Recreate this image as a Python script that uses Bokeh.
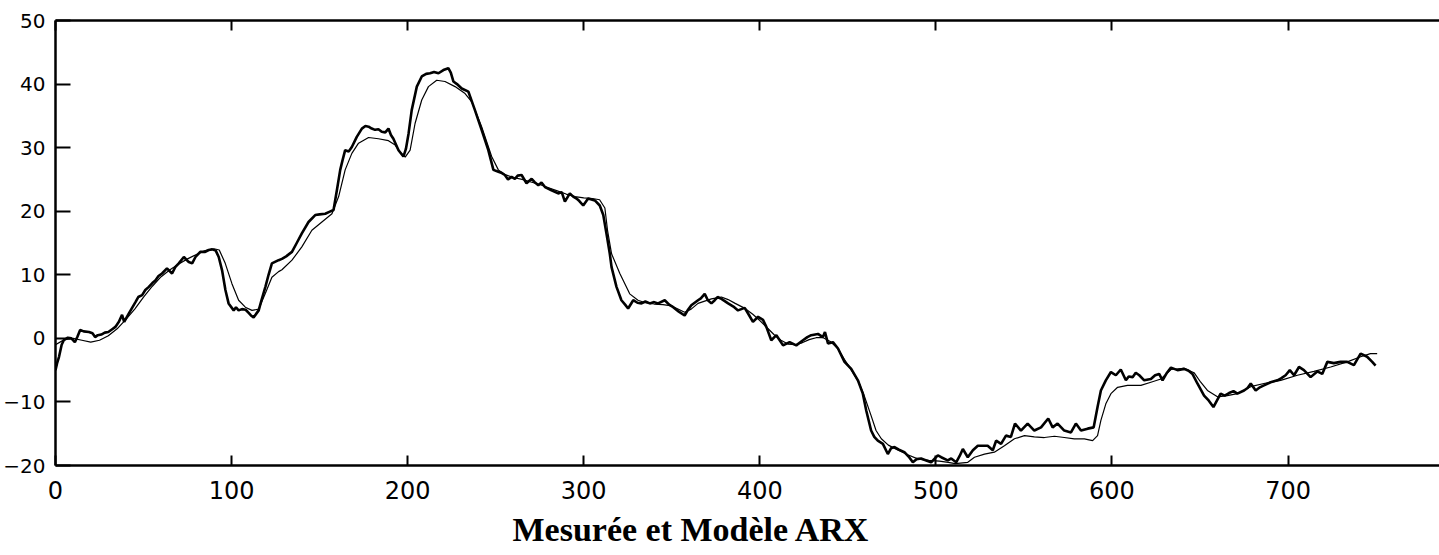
from bokeh.plotting import figure
from bokeh.models import LinearAxis, FixedTicker, Range1d, Title
from bokeh.embed import file_html
from bokeh.resources import INLINE

title_text = "Mesurée et Modèle ARX"
x_ticks = [0, 100, 200, 300, 400, 500, 600, 700, 800]
y_ticks = [-20, -10, 0, 10, 20, 30, 40, 50]

# Measured output (thick, noisy)
meas_x = [0, 1, 2, 3.5, 4.7, 7, 9, 11, 12.5, 14, 16, 19, 21, 22.5, 24, 26, 28, 30, 32, 34, 36, 37.8, 39, 41.6,
          43.5, 45.4, 47, 49.2, 51, 53, 55, 56.7, 58.5, 60.5, 63.3, 66.2, 68, 70, 72.9, 75.7, 77.6, 79.5, 82.2,
          85, 87, 89, 91, 92.7, 94.6, 96.5, 98.3, 101.2, 102.5, 104, 105.9, 108, 109.7, 111, 112.5, 115.4, 117,
          119.2, 121, 122.9, 126.7,
          128.6, 131, 134.3, 137, 139.9, 143.7, 147.5, 150, 153.2, 155.5, 157.9, 159.8, 161.7, 163, 164.5, 166.5,
          168.3, 171.1, 174, 176, 177.8, 179.6, 181.5, 183.4, 185.3, 187.3, 189.1, 190.5, 191.9, 194.8, 197.6,
          199, 200.5, 202.3, 205.2, 208, 210.5, 212.7, 215, 217.5, 220.3, 223.1, 224.5, 226, 228, 230.7, 234.5,
          238.2, 242, 245.8, 248.7,
          251.5, 253.5, 255.2, 257, 259, 260.9, 262.5, 264.7, 267.5, 270.4, 272, 274.2, 276, 278, 281.7, 285.5,
          287.5, 289.3, 292.1, 294, 295.9, 297.5, 299.7, 302.5, 306.3, 309.1, 311.1, 312.9, 314.8, 315.8, 318.6,
          321.4, 323.5, 325.2, 328.1, 330.5, 332.8, 335, 337.5, 340, 342.2, 346, 348.5, 350.8, 354, 357.3, 359,
          361.1, 364.9, 366.5, 368.7, 370.5, 372.5, 374.4, 376, 378.2,
          382, 385, 387.6, 391.4, 394, 396.1, 399, 401.8, 403.7, 406.5, 409.4, 413.2, 416.9, 420.7, 424.5, 427,
          429.2, 433, 435.8, 437, 438.7, 441.5, 444.4, 448.1, 451.9, 455.7, 458.5, 460.4, 463.2, 465, 467, 469.9,
          472.7, 474.5, 476.5, 479, 482.1, 484.5, 486.9, 489, 491.6, 494.5, 497.3, 499, 501.1, 503, 506.7,
          508.7, 511.5, 513.5, 515.3, 518.1, 521, 523.8, 527, 529.4, 532.3, 534.2, 537, 539.8, 542.6, 544.9,
          548.3, 552.1, 555.9, 559.7, 563.8, 566.3, 569.1, 572.9, 576.7, 579.5, 582.4, 586.2, 589.6, 591.8,
          593.7, 596.5, 599.4, 602.2, 605, 607.9, 609.5, 611.7, 613.5, 615.5, 618.3, 622.1, 624.5, 626.8, 628.7,
          631, 633.5, 637.2,
          641, 643.5, 645.7, 648.5, 652.3, 655, 657.6, 661.7, 664, 666.5, 669, 671.2, 675, 677, 678.8, 681.6,
          684, 686.3, 690.1, 693.9, 696, 698.6, 701, 703.4, 706.2, 709, 712.8, 716.6, 719.4, 722.3, 726, 729.8,
          733.6, 737.4, 741.2, 744.9, 747.8, 749.7]
meas_y = [-5.0, -3.8, -2.9, -1.0, -0.3, 0.1, 0.0, -0.6, 0.3, 1.3, 1.1, 1.0, 0.8, 0.2, 0.5, 0.6, 0.9, 1.0, 1.4,
          1.8, 2.6, 3.7, 2.6, 3.9, 4.8, 5.7, 6.5, 6.8, 7.6, 8.1, 8.7, 9.1, 9.8, 10.2, 11.0, 10.2, 11.2, 11.8, 12.8,
          12.0, 11.8, 12.8, 13.6, 13.6, 13.9, 14.0, 13.8, 12.8, 10.7, 7.6, 5.5, 4.4, 4.9, 4.4, 4.6, 4.5, 4.0, 3.6,
          3.3, 4.4, 6.0, 8.1, 10.0, 11.8, 12.3,
          12.5, 12.9, 13.6, 15.0, 16.5, 18.3, 19.4, 19.5, 19.6, 19.9, 20.2, 23.3, 26.5, 28.0, 29.6, 29.4, 30.1,
          31.7, 33.0, 33.4, 33.3, 33.0, 32.8, 32.9, 32.5, 32.4, 33.0, 32.0, 31.4, 29.6, 28.6, 29.8, 32.2, 35.9,
          39.6, 41.2, 41.6, 41.7, 41.9, 41.7, 42.2, 42.5, 41.8, 40.4, 40.0, 39.3, 38.8, 35.9, 32.8, 29.6, 26.5,
          26.2, 26.0, 25.7, 25.0, 25.4, 25.1, 25.6, 25.7, 24.4, 25.1, 24.6, 24.1, 24.5, 23.8, 23.3, 22.8, 23.0,
          21.5, 22.8, 22.3, 22.0, 21.6, 20.9, 22.0, 21.7, 20.9, 19.4, 16.5, 13.3, 11.2, 8.1, 6.0, 5.3, 4.7, 6.0,
          5.6, 5.5, 5.8, 5.5, 5.7, 5.5, 6.0, 5.3, 4.9, 4.2, 3.6, 4.4, 5.2, 6.0, 6.3, 7.0, 6.0, 5.5, 6.0, 6.5, 6.2,
          5.5, 5.0, 4.4, 4.8, 3.6, 2.6, 3.4, 2.9, 1.8, -0.3, 0.5, -1.1, -0.6, -1.1, -0.3, 0.2, 0.5, 0.7, 0.2, 1.0,
          -0.8, -0.6, -1.6, -3.7, -4.8, -6.6, -8.7, -11.3, -14.5, -15.5, -16.1, -16.6, -18.2, -17.3, -17.1, -17.5,
          -17.9, -18.6, -19.5, -19.0, -18.9, -19.2, -19.5, -19.0, -18.4, -18.7, -19.2,
          -18.9, -19.5, -18.5, -17.4, -18.7, -17.6, -16.9, -16.9, -16.9, -17.6, -16.1, -16.6, -15.3, -15.5, -13.4,
          -14.5, -13.4, -14.5, -14.0, -12.6, -14.0, -13.4, -14.5, -14.8, -13.4, -14.5, -14.2, -14.0, -10.8, -8.2,
          -6.6, -5.3, -5.8, -4.9, -6.6, -6.0, -6.1, -5.4, -5.8, -6.6, -6.4, -5.8, -5.6, -6.6, -5.5, -4.6, -5.0,
          -4.8, -5.1, -5.6, -7.1, -9.0, -9.8, -10.8, -8.7, -9.0, -8.6, -8.3, -8.7, -8.2, -7.8, -7.1, -8.2, -7.7,
          -7.4, -6.9, -6.6, -6.3, -5.8, -5.0, -5.8, -4.5, -5.0, -6.1, -5.2, -5.6, -3.7, -3.9, -3.7, -3.7, -4.2,
          -2.4, -2.9, -3.7, -4.3]

# ARX model output (thin, smooth)
model_x = [0, 5, 10, 15, 20, 25, 30, 35, 40, 45, 50, 55, 60, 65, 70, 75, 80, 85, 90, 93, 96.4, 100.2, 104,
           107.8, 111.6, 115.4, 119.2, 122.9, 126.7, 128.6, 134.3, 139.9, 145.6, 151.3, 157, 160.8, 164.5, 168.3,
           172.1, 177.8, 183.4, 189.1, 192.9, 195.7, 198.6, 201.4, 204.2, 208, 211.8, 216.5, 221.2, 226.9, 232.6,
           236.4, 242, 247.7, 251.5, 255, 260, 265, 270, 275, 280, 285, 290, 295, 300, 305, 309, 312, 313.5, 315.8,
           320.5, 326.1, 330.8, 335, 340, 345, 350, 357.3, 361, 364.9, 372.5, 378.2, 382, 386, 391, 396, 400, 404,
           408, 412, 416, 420, 424, 428, 432, 436, 440, 444, 448, 452, 456, 459, 463, 466, 469, 473, 478, 484, 490,
           496, 502, 507, 511, 518.1, 521.9, 527.6, 533.2, 538.9, 544.6, 550.3, 555.9, 561.6, 567.3, 572.9, 578.6,
           584.3, 589, 591.8, 593.7, 596.5, 599.4, 603.2, 608.8, 616.4, 622.1, 627.8, 633.5, 641, 646.6, 650.4,
           654.2, 659.9, 665.5, 671.2, 678.8, 686.3, 695.8, 705.3, 714.7, 724.2, 733.6, 741.2, 746.8, 750.6]
model_y = [-1.0, -0.2, 0.0, -0.3, -0.6, -0.3, 0.4, 1.5, 3.0, 4.6, 6.5, 8.2, 9.7, 10.8, 11.7, 12.5, 13.2, 13.8,
           14.1, 13.9, 11.8, 8.6, 6.0, 4.9, 4.4, 4.6, 7.1, 9.6, 10.5, 10.8, 12.3, 14.4, 17.0, 18.3, 19.6, 22.3,
           26.5, 29.1, 30.7, 31.6, 31.4, 31.1, 30.4, 29.3, 28.5, 29.6, 33.8, 37.5, 39.6, 40.6, 40.4, 39.6, 38.5,
           37.2, 33.3, 28.6, 26.5, 25.8, 25.3, 25.0, 24.6, 24.2, 23.7, 23.2, 22.7, 22.3, 22.1, 22.0, 21.8, 20.5,
           17.0, 13.3, 10.2, 7.0, 6.0, 5.6, 5.4, 5.3, 5.1, 4.1, 4.6, 5.5, 6.2, 6.5, 6.1, 5.5, 4.8, 3.8, 2.8, 1.7,
           0.6, -0.3, -0.9, -1.0, -0.7, -0.2, 0.1, 0.1, -0.5, -1.5, -3.3, -5.0, -6.8, -8.8, -12.0, -14.5, -15.8,
           -16.8, -17.5, -18.3, -19.0, -19.2, -19.3, -19.5, -19.7, -19.5, -18.7, -18.2, -17.9, -16.9, -15.8, -15.3,
           -15.5, -15.6, -15.4, -15.6, -15.8, -15.8, -16.1, -15.3, -12.9, -10.3, -8.7, -7.7, -7.4, -7.4, -6.9,
           -6.4, -4.9, -4.7, -5.4, -6.9, -8.2, -9.2, -9.0, -8.7, -7.6, -7.1, -6.6, -5.8, -5.2, -4.5, -3.7, -2.9,
           -2.4, -2.4]

p = figure(width=1439, height=555, output_backend="svg", toolbar_location=None,
           x_range=Range1d(0, 786), y_range=Range1d(-20, 50),
           min_border_left=53, min_border_right=0, min_border_top=20, min_border_bottom=90,
           background_fill_color="white", border_fill_color="white")
p.outline_line_color = None
p.grid.visible = False

p.line(model_x, model_y, line_color="black", line_width=1.2)
p.line(meas_x, meas_y, line_color="black", line_width=2.6)

top = LinearAxis(ticker=FixedTicker(ticks=x_ticks))
p.add_layout(top, "above")

for ax in p.xaxis:
    ax.ticker = FixedTicker(ticks=x_ticks)
    ax.major_tick_in = 10
    ax.major_tick_out = 0
    ax.minor_tick_line_color = None
    ax.axis_line_width = 2.5
    ax.axis_line_color = "black"
    ax.major_tick_line_width = 2
    ax.major_tick_line_color = "black"

top.major_label_text_color = None
top.major_label_text_font_size = "1px"
top.major_label_standoff = 0

bottom = p.below[0]
bottom.major_label_text_font = "DejaVu Sans"
bottom.major_label_text_font_size = "24px"
bottom.major_label_text_color = "black"
bottom.major_label_standoff = 15

left = p.left[0]
left.ticker = FixedTicker(ticks=y_ticks)
left.major_tick_in = 15
left.major_tick_out = 0
left.minor_tick_line_color = None
left.axis_line_width = 2.5
left.axis_line_color = "black"
left.major_tick_line_width = 2
left.major_tick_line_color = "black"
left.major_label_text_font = "DejaVu Sans"
left.major_label_text_font_size = "20px"
left.major_label_text_color = "black"
left.major_label_standoff = 10

title = Title(text=title_text, align="left", offset=457, standoff=14,
              text_font="Liberation Serif", text_font_style="bold",
              text_font_size="34px", text_color="black")
p.add_layout(title, "below")

open("out.html", "w").write(file_html(p, INLINE))
